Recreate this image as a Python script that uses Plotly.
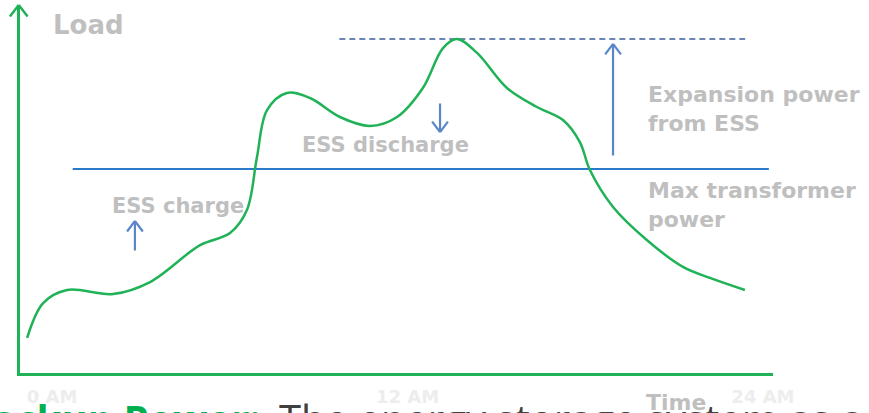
import plotly.graph_objects as go

# Daily load profile (hours, load in % of transformer rating)
hours = [-0.84, -0.30, 0.51, 2.06, 3.31, 5.00, 6.01, 6.58, 6.92, 7.26, 7.93, 8.71,
         9.72, 10.73, 11.65, 12.52, 13.20, 13.67, 14.35, 15.36, 16.37, 17.25, 17.82,
         18.16, 18.94, 20.08, 21.30, 22.21, 23.39]
load = [17.2, 34.3, 40.7, 38.7, 44.6, 62.7, 68.6, 79.9, 105.9, 128.9, 137.3, 134.8,
        125.5, 121.1, 125.5, 139.7, 159.3, 163.7, 156.9, 139.7, 130.4, 124.0, 113.2,
        99.5, 81.4, 65.2, 52.0, 46.6, 40.7]

max_transformer = 100.0
transformer_span = [0.7, 24.2]
peak_span = [9.7, 23.4]

tick_hours = [0, 12, 24]
tick_text = ["0 AM", "12 AM", "24 AM"]

GREEN = "#1fb257"
BLUE = "#2b79c9"
DARK_BLUE = "#3b5e9c"
ARROW = "#5a86c8"
GRAY = "#bfbfbf"
LABEL_FONT = "DejaVu Sans"

peak_load = max(load)

fig = go.Figure()

# Maximum transformer power
fig.add_trace(go.Scatter(
    x=transformer_span, y=[max_transformer] * 2, mode="lines",
    line=dict(color=BLUE, width=2), hoverinfo="skip"))

# Peak load level
fig.add_trace(go.Scatter(
    x=peak_span, y=[peak_load] * 2, mode="lines",
    line=dict(color=DARK_BLUE, width=1.5, dash="6px,4px"), hoverinfo="skip"))

# Load curve
fig.add_trace(go.Scatter(
    x=hours, y=load, mode="lines",
    line=dict(color=GREEN, width=2.5, shape="spline", smoothing=1.0),
    hoverinfo="skip"))


def segment(x, y, ax, ay, color, width, data_tail=False):
    seg = dict(x=x, y=y, ax=ax, ay=ay, xref="x", yref="y", text="",
               showarrow=True, arrowhead=0, arrowwidth=width,
               arrowcolor=color, standoff=0)
    if data_tail:
        seg.update(axref="x", ayref="y")
    return seg


def open_arrow(x, y_tail, y_tip, color=ARROW, width=2.2, head=(9, 12), up=True,
               xshift=0):
    """Shaft plus a thin open V head (head size in pixels)."""
    hw, hl = head
    dy = hl if up else -hl
    items = [segment(x, y_tip, x, y_tail, color, width, data_tail=True),
             segment(x, y_tip, -hw, dy, color, width),
             segment(x, y_tip, hw, dy, color, width)]
    for it in items:
        it["xshift"] = xshift
    return items


def label(x, y, text, size=21, yref="y"):
    return dict(x=x, y=y, xref="x", yref=yref, text=text, showarrow=False,
                xanchor="left", yanchor="middle", align="left",
                borderpad=0, borderwidth=0,
                font=dict(family=LABEL_FONT, size=size, color=GRAY, weight="bold"))


annotations = []
# ESS charge / discharge / expansion arrows
annotations += open_arrow(2.80, 59.3, 74.5, up=True)
annotations += open_arrow(13.10, 132.8, 118.1, up=False)
annotations += open_arrow(18.94, 105.9, 161.3, up=True)
# Open arrowhead at the top of the load axis
annotations += open_arrow(-1.08, 170.0, 180.4, color=GREEN, width=2.5,
                          head=(10, 13), up=True, xshift=-1.25)

annotations += [
    # Text labels
    label(0.03, 170.6, "Load", size=26),
    label(8.44, 111.8, "ESS discharge"),
    label(2.03, 81.9, "ESS charge"),
    label(20.12, 129.4, "Expansion power<br>from ESS", size=22),
    label(20.12, 82.4, "Max transformer<br>power", size=22),
    # Caption line below the chart
    dict(x=7.09, y=-0.046, xref="x", yref="paper", text="<b>Backup Power:</b>",
         showarrow=False, xanchor="right", yanchor="top", borderpad=0,
         font=dict(family="Open Sans", size=40, color="#00b050")),
    dict(x=7.63, y=-0.046, xref="x", yref="paper",
         text="The energy storage system as a",
         showarrow=False, xanchor="left", yanchor="top", borderpad=0,
         font=dict(family="Open Sans", size=40, color="#404040")),
    label(20.05, -0.0815, "Time", size=22, yref="paper"),
]

fig.update_layout(
    width=869, height=413,
    margin=dict(l=20, r=96, t=5, b=40),
    paper_bgcolor="white", plot_bgcolor="white",
    showlegend=False,
    annotations=annotations,
    xaxis=dict(range=[-1.08, 24.34], showgrid=False, zeroline=False,
               showline=True, linecolor=GREEN, linewidth=2.5,
               tickvals=tick_hours, ticktext=tick_text, ticks="",
               ticklabelstandoff=6,
               tickfont=dict(family=LABEL_FONT, size=18, color="#ededed", weight="bold")),
    yaxis=dict(range=[0, 180.4], showgrid=False, zeroline=False,
               showline=True, linecolor=GREEN, linewidth=2.5,
               showticklabels=False, ticks=""),
)

fig.write_html("out.html")
